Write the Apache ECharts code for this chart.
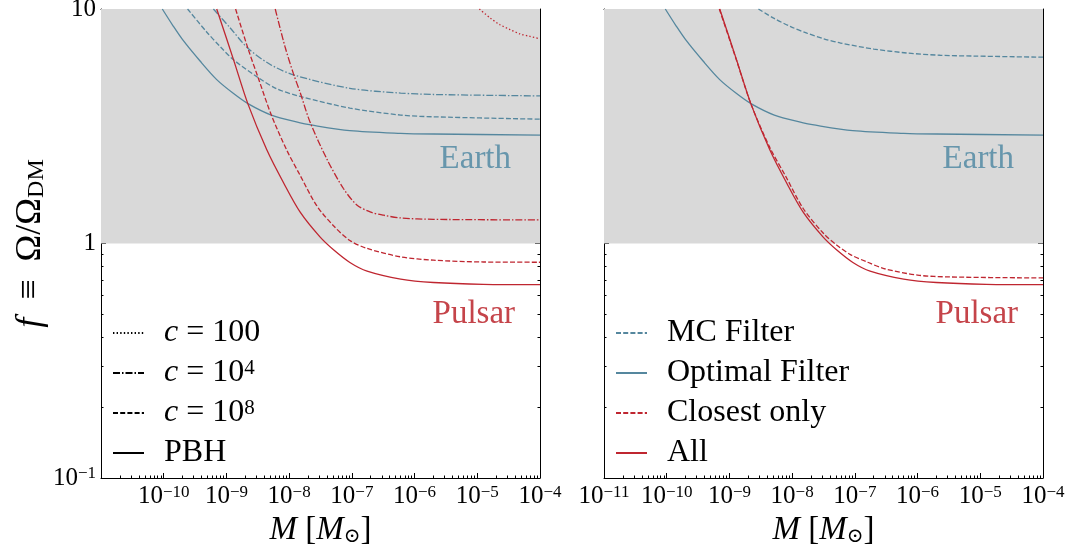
<!DOCTYPE html>
<html>
<head>
<meta charset="utf-8">
<script src="https://cdn.jsdelivr.net/npm/echarts@6/dist/echarts.min.js"></script>
<style>
  html, body { margin: 0; padding: 0; background: #ffffff; }
  #chart { width: 1070px; height: 550px; }
</style>
</head>
<body>
<div id="chart"></div>
<script>
// Axis ranges and tick positions
const massRange = [1e-11, 1e-4];
const fRange = [0.1, 10];
const excludedBand = [1, 10];
const massDecades = [1e-11, 1e-10, 1e-9, 1e-8, 1e-7, 1e-6, 1e-5, 1e-4];
const fDecades = [0.1, 1, 10];

// Earth-based bounds: [M (solar masses), f]
const earthPBH = [[9.5e-11, 10], [1.4e-10, 8.5], [2e-10, 7.4], [3.8e-10, 6.0], [7e-10, 5.0], [1.3e-9, 4.36],
  [2.2e-9, 3.95], [5.2e-9, 3.53], [1.5e-8, 3.27], [2.1e-8, 3.21], [9.3e-8, 3.03], [6e-7, 2.95], [2e-6, 2.93], [1e-4, 2.9]];
const earthC8 = [[2.4e-10, 10], [4.8e-10, 8.0], [8e-10, 6.9], [1.3e-9, 6.07], [3.2e-9, 5.1], [6.3e-9, 4.57],
  [1.5e-8, 4.24], [9.3e-8, 3.78], [6e-7, 3.53], [2e-6, 3.47], [1e-4, 3.39]];
const earthC4 = [[6.2e-10, 10], [1.15e-9, 8.3], [2.2e-9, 6.8], [5e-9, 5.8], [1.17e-8, 5.24], [9.3e-8, 4.59],
  [6e-7, 4.38], [2e-6, 4.32], [1e-4, 4.26]];
const earthMC = [[2.9e-9, 10], [5e-9, 9.16], [9.3e-9, 8.43], [1.72e-8, 7.89], [3.2e-8, 7.46], [5.9e-8, 7.16],
  [2e-7, 6.75], [6.8e-7, 6.49], [2.3e-6, 6.35], [7.9e-6, 6.30], [1e-4, 6.23]];

// Pulsar-timing bounds: [M (solar masses), f]
const pulsarPBH = [[7e-10, 10], [1.3e-9, 6.07], [2.2e-9, 3.94], [4.4e-9, 2.51], [8.1e-9, 1.82], [1.5e-8, 1.36],
  [3.1e-8, 1.067], [5.1e-8, 0.94], [9.3e-8, 0.83], [1.75e-7, 0.762], [6e-7, 0.705], [2e-6, 0.682], [1.25e-5, 0.670], [1e-4, 0.668]];
const pulsarC8 = [[1.4e-9, 10], [2.2e-9, 6.8], [3.2e-9, 5.1], [5.2e-9, 3.53], [9.1e-9, 2.51], [1.5e-8, 1.95],
  [2.75e-8, 1.45], [5.1e-8, 1.19], [9.3e-8, 1.03], [1.75e-7, 0.953], [6e-7, 0.877], [2e-6, 0.849], [1.25e-5, 0.834], [1e-4, 0.832]];
const pulsarC4 = [[6e-9, 10], [8.6e-9, 6.9], [1.17e-8, 5.3], [1.5e-8, 4.4], [2.15e-8, 3.3], [4e-8, 2.29],
  [7.3e-8, 1.72], [1.2e-7, 1.46], [2e-7, 1.36], [3.2e-7, 1.32], [6e-7, 1.285], [2e-6, 1.268], [1e-4, 1.26]];
const pulsarC100 = [[1.08e-5, 10], [1.6e-5, 9.16], [2.3e-5, 8.57], [3.33e-5, 8.17], [4.8e-5, 7.83], [6.95e-5, 7.64], [1e-4, 7.46]];
const pulsarClosest = [[6.9e-10, 10], [1.3e-9, 6.03], [2.2e-9, 3.94], [4.4e-9, 2.57], [8.1e-9, 1.91], [1.5e-8, 1.41],
  [3.2e-8, 1.10], [5e-8, 0.99], [8.5e-8, 0.897], [1.6e-7, 0.832], [2.9e-7, 0.782], [1e-6, 0.733], [3.3e-6, 0.72], [1e-4, 0.713]];

const leftLegendNames = ['c = 100', 'c = 10^4', 'c = 10^8', 'PBH'];
const rightLegendNames = ['MC Filter', 'Optimal Filter', 'Closest only', 'All'];

const BLUE = '#55879e';
const RED = '#bf2630';
const FONT = '"Liberation Serif", "DejaVu Serif", serif';
const DASHED = [5, 2.2];
const DASHDOT = [7, 2, 1.5, 2];
const DOTTED = [1.4, 2.2];

function minorTicks(decades) {
  const out = [];
  for (let i = 0; i < decades.length - 1; i++) {
    for (let m = 2; m <= 9; m++) out.push(m * decades[i]);
  }
  return out;
}
const massMinor = minorTicks(massDecades);
const fMinor = minorTicks(fDecades);

function powLabel(v) {
  const e = Math.round(Math.log10(v));
  if (e === 0) return '1';
  if (e === 1) return '10';
  return '10{sup|' + (e < 0 ? '\u2212' : '') + Math.abs(e) + '}';
}

const labelRich = {
  sup: { fontSize: 17, fontFamily: FONT, color: '#000', verticalAlign: 'top', padding: [0, 0, 7, 0] }
};

const grids = [
  { left: 101, top: 9, width: 439, bottom: 72, outerBoundsMode: 'none', containLabel: false },
  { left: 604, top: 9, width: 439, bottom: 72, outerBoundsMode: 'none', containLabel: false }
];

const xAxes = [];
const yAxes = [];
grids.forEach((g, gi) => {
  const base = { type: 'log', logBase: 10, gridIndex: gi, min: massRange[0], max: massRange[1], splitLine: { show: false } };
  xAxes.push(Object.assign({}, base, {
    position: 'bottom',
    axisLine: { show: true, onZero: false, lineStyle: { color: '#000', width: 1 } },
    axisTick: { show: true, inside: true, length: 5, lineStyle: { color: '#000' }, customValues: massDecades },
    axisLabel: {
      show: true, margin: 6, color: '#000', fontFamily: FONT, fontSize: 25,
      customValues: gi === 0 ? massDecades.slice(1) : massDecades,
      formatter: powLabel, rich: labelRich
    },
    name: '{i|M} [{i|M}{sub|\u2299}]', nameLocation: 'middle', nameGap: 36,
    nameTextStyle: {
      color: '#000', fontFamily: FONT, fontSize: 33,
      rich: { i: { fontStyle: 'italic', fontSize: 33, fontFamily: FONT }, sub: { fontSize: 20, fontFamily: FONT, verticalAlign: 'bottom' } }
    }
  }));
  xAxes.push(Object.assign({}, base, {
    position: 'bottom', axisLine: { show: false, onZero: false },
    axisTick: { show: true, inside: true, length: 2.5, lineStyle: { color: '#000' }, customValues: massMinor },
    axisLabel: { show: false }
  }));
  xAxes.push(Object.assign({}, base, {
    position: 'top',
    axisLine: { show: true, onZero: false, lineStyle: { color: '#000', width: 1 } },
    axisTick: { show: true, inside: true, length: 5, lineStyle: { color: '#000' }, customValues: massDecades },
    axisLabel: { show: false }
  }));
  xAxes.push(Object.assign({}, base, {
    position: 'top', axisLine: { show: false, onZero: false },
    axisTick: { show: true, inside: true, length: 2.5, lineStyle: { color: '#000' }, customValues: massMinor },
    axisLabel: { show: false }
  }));

  const ybase = { type: 'log', logBase: 10, gridIndex: gi, min: fRange[0], max: fRange[1], splitLine: { show: false } };
  const yMain = Object.assign({}, ybase, {
    position: 'left',
    axisLine: { show: true, onZero: false, lineStyle: { color: '#000', width: 1 } },
    axisTick: { show: true, inside: true, length: 5, lineStyle: { color: '#000' }, customValues: fDecades },
    axisLabel: {
      show: gi === 0, margin: 5, color: '#000', fontFamily: FONT, fontSize: 25,
      customValues: fDecades, formatter: powLabel, rich: labelRich
    }
  });
  if (gi === 0) {
    Object.assign(yMain, {
      name: '{i|f}  \u2261  \u03A9/\u03A9{sub|DM}', nameLocation: 'middle', nameGap: 48, nameRotate: 90,
      nameTextStyle: {
        color: '#000', fontFamily: FONT, fontSize: 36,
        rich: { i: { fontStyle: 'italic', fontSize: 36, fontFamily: FONT }, sub: { fontSize: 24, fontFamily: FONT, verticalAlign: 'bottom' } }
      }
    });
  }
  yAxes.push(yMain);
  yAxes.push(Object.assign({}, ybase, {
    position: 'left', axisLine: { show: false, onZero: false },
    axisTick: { show: true, inside: true, length: 2.5, lineStyle: { color: '#000' }, customValues: fMinor },
    axisLabel: { show: false }
  }));
  yAxes.push(Object.assign({}, ybase, {
    position: 'right',
    axisLine: { show: true, onZero: false, lineStyle: { color: '#000', width: 1 } },
    axisTick: { show: true, inside: true, length: 5, lineStyle: { color: '#000' }, customValues: fDecades },
    axisLabel: { show: false }
  }));
  yAxes.push(Object.assign({}, ybase, {
    position: 'right', axisLine: { show: false, onZero: false },
    axisTick: { show: true, inside: true, length: 2.5, lineStyle: { color: '#000' }, customValues: fMinor },
    axisLabel: { show: false }
  }));
});

function curve(name, gi, data, color, dash) {
  return {
    name, type: 'line', xAxisIndex: gi * 4, yAxisIndex: gi * 4, data,
    symbol: 'none', showSymbol: false, smooth: 0.3, clip: true, z: 3, silent: true,
    lineStyle: { color, width: 1.3, type: dash || 'solid' }
  };
}

function legendSample(name, color, dash) {
  return {
    name, type: 'line', xAxisIndex: 0, yAxisIndex: 0, data: [], symbol: 'none',
    itemStyle: { color, opacity: 0 },
    lineStyle: { color, width: 1.3, type: dash || 'solid' }
  };
}

function band(gi) {
  return {
    name: 'band' + gi, type: 'line', xAxisIndex: gi * 4, yAxisIndex: gi * 4, data: [], z: 1, silent: true,
    markArea: {
      silent: true,
      itemStyle: { color: '#d9d9d9' },
      data: [[{ yAxis: excludedBand[0] }, { yAxis: excludedBand[1] }]]
    }
  };
}

function regionLabels(gi) {
  return {
    name: 'labels' + gi, type: 'scatter', xAxisIndex: gi * 4, yAxisIndex: gi * 4, data: [], z: 4, silent: true,
    markPoint: {
      silent: true, symbol: 'circle', symbolSize: 0,
      data: [
        { coord: [9.3e-6, 2.29], label: { show: true, formatter: 'Earth', color: '#6796ac', fontFamily: FONT, fontSize: 33 } },
        { coord: [8.8e-6, 0.50], label: { show: true, formatter: 'Pulsar', color: '#c5444a', fontFamily: FONT, fontSize: 33 } }
      ]
    }
  };
}

const series = [
  band(0), band(1),
  curve('earthPBH', 0, earthPBH, BLUE),
  curve('earthC8', 0, earthC8, BLUE, DASHED),
  curve('earthC4', 0, earthC4, BLUE, DASHDOT),
  curve('pulsarPBH', 0, pulsarPBH, RED),
  curve('pulsarC8', 0, pulsarC8, RED, DASHED),
  curve('pulsarC4', 0, pulsarC4, RED, DASHDOT),
  curve('pulsarC100', 0, pulsarC100, RED, DOTTED),
  legendSample(leftLegendNames[0], '#000', DOTTED),
  legendSample(leftLegendNames[1], '#000', DASHDOT),
  legendSample(leftLegendNames[2], '#000', DASHED),
  legendSample(leftLegendNames[3], '#000'),
  curve(rightLegendNames[0], 1, earthMC, BLUE, DASHED),
  curve(rightLegendNames[1], 1, earthPBH, BLUE),
  curve(rightLegendNames[2], 1, pulsarClosest, RED, DASHED),
  curve(rightLegendNames[3], 1, pulsarPBH, RED),
  regionLabels(0), regionLabels(1)
];

function legendText(name) {
  const m = name.match(/^c = (.*)$/);
  if (!m) return name;
  const v = m[1].split('^');
  return '{i|c} = ' + v[0] + (v[1] ? '{sup|' + v[1] + '}' : '');
}

const legendCommon = {
  orient: 'vertical', selectedMode: false, itemWidth: 31, itemHeight: 14, itemGap: 8,
  itemStyle: { opacity: 0 },
  textStyle: {
    color: '#000', fontFamily: FONT, fontSize: 32, lineHeight: 30, padding: [0, 0, 0, 15],
    rich: {
      i: { fontStyle: 'italic', fontSize: 32, fontFamily: FONT },
      sup: { fontSize: 21, fontFamily: FONT, verticalAlign: 'top', padding: [0, 0, 10, 0] }
    }
  },
  formatter: legendText
};

const chart = echarts.init(document.getElementById('chart'), null, { renderer: 'canvas' });
chart.setOption({
  animation: false,
  backgroundColor: '#ffffff',
  grid: grids,
  xAxis: xAxes,
  yAxis: yAxes,
  legend: [
    Object.assign({}, legendCommon, { left: 107, top: 312, data: leftLegendNames }),
    Object.assign({}, legendCommon, { left: 610, top: 312, data: rightLegendNames })
  ],
  series
});
</script>
</body>
</html>
